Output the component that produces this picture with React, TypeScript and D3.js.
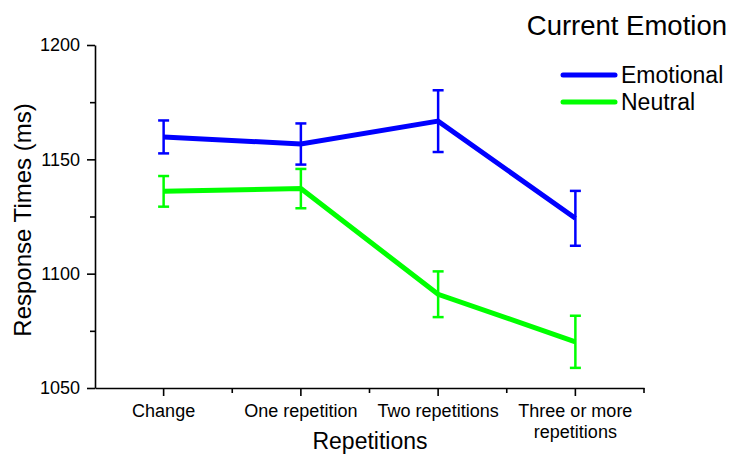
import React, { useEffect, useRef } from 'react';
import * as d3 from 'd3';

// categories on the x axis
const repetitions = ['Change', 'One repetition', 'Two repetitions', 'Three or more repetitions'];
// mean response times and error sizes
const emotionalMeans = [1159.8, 1156.7, 1166.7, 1124.2];
const emotionalErrors = [7.2, 9.0, 13.5, 12.0];
const neutralMeans = [1136.0, 1137.2, 1091.0, 1070.2];
const neutralErrors = [6.7, 8.6, 10.0, 11.4];
const yTicks = [1050, 1100, 1150, 1200];
const yMinorTicks = [1075, 1125, 1175];

const series = [
    { name: 'Emotional', color: '#0000ff', means: emotionalMeans, errors: emotionalErrors },
    { name: 'Neutral', color: '#00ff00', means: neutralMeans, errors: neutralErrors },
];

const App = () => {
    const ref = useRef<SVGSVGElement>(null);

    useEffect(() => {
        const svg = d3.select(ref.current);
        svg.selectAll('*').remove();

        const width = 743;
        const height = 454;
        const margin = { top: 45, right: 99, bottom: 66, left: 95 };
        const font = "'Liberation Sans', Arial, sans-serif";

        const xScale = d3.scaleBand()
            .domain(repetitions)
            .range([margin.left, width - margin.right]);
        const yScale = d3.scaleLinear()
            .domain([1050, 1200])
            .range([height - margin.bottom, margin.top]);

        const cx = (d: string) => (xScale(d) as number) + xScale.bandwidth() / 2;

        // y axis
        const yAxis = svg.append('g')
            .attr('transform', `translate(${margin.left},0)`)
            .call(d3.axisLeft(yScale).tickValues(yTicks).tickSize(8).tickPadding(7).tickSizeOuter(0)
                .tickFormat(d3.format('d')));
        yAxis.selectAll('text')
            .style('font-family', font)
            .style('font-size', '18px')
            .attr('fill', '#000');
        yAxis.selectAll('line, path').attr('stroke', '#000').attr('stroke-width', 1.6);
        svg.append('g')
            .attr('transform', `translate(${margin.left},0)`)
            .call(d3.axisLeft(yScale).tickValues(yMinorTicks).tickSize(5).tickFormat(() => '').tickSizeOuter(0))
            .call((g) => g.select('.domain').remove())
            .selectAll('line')
            .attr('stroke', '#000')
            .attr('stroke-width', 1.6);

        // x axis
        const xAxis = svg.append('g')
            .attr('transform', `translate(0,${height - margin.bottom})`)
            .call(d3.axisBottom(xScale).tickSize(8).tickFormat(() => '').tickSizeOuter(0));
        xAxis.selectAll('line, path').attr('stroke', '#000').attr('stroke-width', 1.6);
        const bounds = repetitions.map((d) => xScale(d) as number).slice(1).concat([width - margin.right]);
        svg.append('g')
            .selectAll('line')
            .data(bounds)
            .join('line')
            .attr('x1', (d) => d)
            .attr('x2', (d) => d)
            .attr('y1', height - margin.bottom)
            .attr('y2', height - margin.bottom + 5)
            .attr('stroke', '#000')
            .attr('stroke-width', 1.6);

        // x tick labels, last one wraps
        const labelLines: Record<string, string[]> = {
            'Three or more repetitions': ['Three or more', 'repetitions'],
        };
        const xLabels = svg.append('g')
            .style('font-family', font)
            .style('font-size', '18px')
            .attr('text-anchor', 'middle');
        repetitions.forEach((d) => {
            const lines = labelLines[d] || [d];
            const t = xLabels.append('text').attr('x', cx(d)).attr('y', 417);
            lines.forEach((l, i) => {
                t.append('tspan').attr('x', cx(d)).attr('dy', i === 0 ? 0 : 21).text(l);
            });
        });

        // axis titles
        svg.append('text')
            .attr('x', 370)
            .attr('y', 449)
            .attr('text-anchor', 'middle')
            .style('font-family', font)
            .style('font-size', '23px')
            .text('Repetitions');
        svg.append('text')
            .attr('transform', 'translate(31,220) rotate(-90)')
            .attr('text-anchor', 'middle')
            .style('font-family', font)
            .style('font-size', '24px')
            .text('Response Times (ms)');

        // lines and error bars
        const line = d3.line<number>()
            .x((_, i) => cx(repetitions[i]))
            .y((d) => yScale(d));

        series.forEach((s) => {
            const g = svg.append('g');
            const bars = g.selectAll('g.err')
                .data(s.means)
                .join('g')
                .attr('class', 'err');
            bars.append('line')
                .attr('x1', (_, i) => cx(repetitions[i]))
                .attr('x2', (_, i) => cx(repetitions[i]))
                .attr('y1', (d, i) => yScale(d + s.errors[i]))
                .attr('y2', (d, i) => yScale(d - s.errors[i]))
                .attr('stroke', s.color)
                .attr('stroke-width', 2.5);
            [1, -1].forEach((sign) => {
                bars.append('line')
                    .attr('x1', (_, i) => cx(repetitions[i]) - 5.5)
                    .attr('x2', (_, i) => cx(repetitions[i]) + 5.5)
                    .attr('y1', (d, i) => yScale(d + sign * s.errors[i]))
                    .attr('y2', (d, i) => yScale(d + sign * s.errors[i]))
                    .attr('stroke', s.color)
                    .attr('stroke-width', 2.5);
            });
            g.append('path')
                .datum(s.means)
                .attr('d', line)
                .attr('fill', 'none')
                .attr('stroke', s.color)
                .attr('stroke-width', 5)
                .attr('stroke-linejoin', 'miter');
        });

        // legend
        svg.append('text')
            .attr('x', 727)
            .attr('y', 35)
            .attr('text-anchor', 'end')
            .style('font-family', font)
            .style('font-size', '27.5px')
            .text('Current Emotion');
        series.forEach((s, i) => {
            const y = 75 + i * 27;
            svg.append('line')
                .attr('x1', 563)
                .attr('x2', 615)
                .attr('y1', y)
                .attr('y2', y)
                .attr('stroke', s.color)
                .attr('stroke-width', 5)
                .attr('stroke-linecap', 'round');
            svg.append('text')
                .attr('x', 621)
                .attr('y', y + 8)
                .style('font-family', font)
                .style('font-size', '23px')
                .text(s.name);
        });
    }, []);

    return (
        <svg
            ref={ref}
            width={743}
            height={454}
            style={{ position: 'absolute', left: 0, top: 0, background: '#fff' }}
        />
    );
};

export default App;
